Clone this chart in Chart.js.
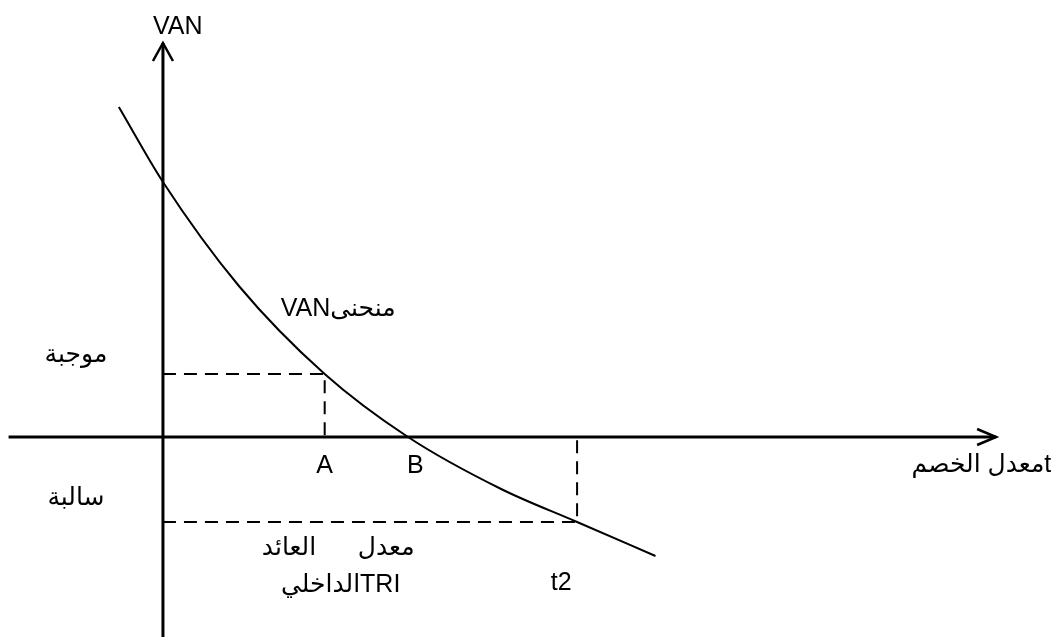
<!DOCTYPE html>
<html>
<head>
<meta charset="utf-8">
<script src="https://cdn.jsdelivr.net/npm/chart.js@4"></script>
<style>
  html, body { margin: 0; padding: 0; background: #fff; }
  #wrap { width: 1051px; height: 637px; }
</style>
</head>
<body>
<div id="wrap"><canvas id="van"></canvas></div>
<script>
// discount rate (x) and VAN (y)
const rates = [-1.8, 0, 3.1, 6.6, 10, 13.8, 16.9, 20.1];
const van = [33, 25.5, 15.1, 6.3, 0, -5.2, -8.5, -11.9];

// the two marked rates and their VAN
const rateA = 6.6, vanA = 6.3;
const rateT2 = 16.9, vanT2 = -8.5;

// axis extents
const xAxisRange = [-6.3, 34.0];
const yAxisRange = [-20, 39.4];

const curve = rates.map((r, i) => ({ x: r, y: van[i] }));

// arrows on the ends of both axes + all the text labels
const drawExtras = {
    id: 'drawExtras',
    afterDatasetsDraw(chart) {
        const ctx = chart.ctx;
        const xs = chart.scales.x, ys = chart.scales.y;
        ctx.save();
        ctx.strokeStyle = '#000';
        ctx.lineWidth = 2.5;

        // x arrow
        let tx = xs.getPixelForValue(xAxisRange[1]);
        let ty = ys.getPixelForValue(0);
        ctx.beginPath();
        ctx.moveTo(tx - 19, ty - 8);
        ctx.lineTo(tx, ty);
        ctx.lineTo(tx - 19, ty + 8);
        ctx.stroke();

        // y arrow
        tx = xs.getPixelForValue(0);
        ty = ys.getPixelForValue(yAxisRange[1]);
        ctx.beginPath();
        ctx.moveTo(tx - 10, ty + 18);
        ctx.lineTo(tx, ty);
        ctx.lineTo(tx + 10, ty + 18);
        ctx.stroke();

        // labels
        ctx.fillStyle = '#000';
        ctx.textAlign = 'center';
        ctx.textBaseline = 'middle';
        ctx.font = '25px "Liberation Sans", "DejaVu Sans", sans-serif';
        const labels = [
            ['VAN', 0.6, 41.0],
            ['موجبة', -3.55, 8.2],
            ['سالبة', -3.55, -6.1],
            ['A', rateA, -2.9],
            ['B', 10.3, -2.9],
            ['منحنىVAN', 7.15, 12.8],
            ['tمعدل الخصم', 33.4, -2.8],
            ['معدل      العائد', 7.15, -11.1],
            ['TRIالداخلي', 7.25, -14.8],
            ['t2', 16.25, -14.6]
        ];
        ctx.direction = 'rtl';
        labels.forEach(([txt, x, y]) => {
            ctx.fillText(txt, xs.getPixelForValue(x), ys.getPixelForValue(y));
        });
        ctx.restore();
    }
};

new Chart(document.getElementById('van'), {
    type: 'scatter',
    data: {
        datasets: [
            {
                // x axis
                data: [{ x: xAxisRange[0], y: 0 }, { x: xAxisRange[1], y: 0 }],
                showLine: true, borderColor: '#000', borderWidth: 3, pointRadius: 0
            },
            {
                // y axis
                data: [{ x: 0, y: yAxisRange[0] }, { x: 0, y: yAxisRange[1] }],
                showLine: true, borderColor: '#000', borderWidth: 3, pointRadius: 0
            },
            {
                // guide for A
                data: [{ x: 0, y: vanA }, { x: rateA, y: vanA }, { x: rateA, y: 0 }],
                showLine: true, borderColor: '#000', borderWidth: 2, borderDash: [13, 8], pointRadius: 0
            },
            {
                // guide for t2
                data: [{ x: 0, y: vanT2 }, { x: rateT2, y: vanT2 }, { x: rateT2, y: 0 }],
                showLine: true, borderColor: '#000', borderWidth: 2, borderDash: [13, 8], pointRadius: 0
            },
            {
                // VAN curve
                data: curve,
                showLine: true, borderColor: '#000', borderWidth: 2, pointRadius: 0,
                cubicInterpolationMode: 'monotone'
            }
        ]
    },
    options: {
        responsive: true,
        maintainAspectRatio: false,
        animation: false,
        layout: { padding: 0 },
        plugins: { legend: { display: false }, tooltip: { enabled: false } },
        scales: {
            x: { type: 'linear', min: -6.65, max: 36.24, display: false },
            y: { type: 'linear', min: -20, max: 43.7, display: false }
        }
    },
    plugins: [drawExtras]
});
</script>
</body>
</html>
